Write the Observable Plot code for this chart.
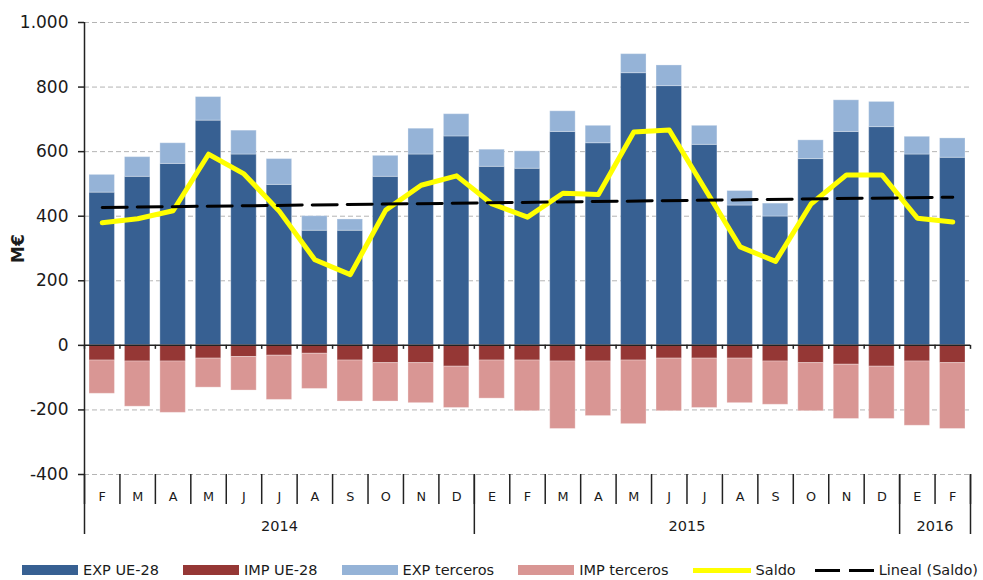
<!DOCTYPE html>
<html>
<head>
<meta charset="utf-8">
<script src="https://cdn.jsdelivr.net/npm/d3@7"></script>
<script src="https://cdn.jsdelivr.net/npm/@observablehq/plot@0.6"></script>
<style>
  body { margin: 0; background: #fff; font-family: "DejaVu Sans", Verdana, sans-serif; }
  #chart svg [aria-label="y-axis label"] text { font-weight: bold; }
  #legend { display: flex; align-items: center; height: 25px; padding-left: 22px; padding-top: 5px; box-sizing: border-box; font-size: 14.5px; color: #1a1a1a; white-space: nowrap; }
  #legend .item { display: flex; align-items: center; margin-right: 24px; }
  #legend .item.short { margin-right: 19px; }
  #legend .sw { width: 56px; height: 10px; margin-right: 5px; }
  #legend .ln { width: 58px; height: 5px; margin-right: 5px; }
  #legend .dash { display: flex; width: 59px; margin-right: 5px; justify-content: space-between; }
  #legend .dash span { display: block; width: 25px; height: 3px; background: #000; }
</style>
</head>
<body>
<div id="chart"></div>
<div id="legend"></div>
<script>
// ---- data ----
const months = ["F","M","A","M","J","J","A","S","O","N","D","E","F","M","A","M","J","J","A","S","O","N","D","E","F"];
const years  = ["2014","2014","2014","2014","2014","2014","2014","2014","2014","2014","2014",
                "2015","2015","2015","2015","2015","2015","2015","2015","2015","2015","2015","2015",
                "2016","2016"];
const expUE       = [473,522,562,696,591,497,355,355,522,591,647,553,547,661,626,843,803,621,433,399,577,661,676,591,581];
const expTerceros = [55,61,64,73,74,80,45,35,65,80,69,53,54,64,54,59,64,59,45,40,58,98,78,55,60];
const impUE       = [-47,-50,-50,-41,-36,-32,-26,-47,-55,-55,-66,-47,-47,-50,-50,-47,-41,-41,-41,-50,-55,-60,-66,-50,-55];
const impTerceros = [-103,-140,-159,-90,-104,-137,-109,-127,-119,-124,-128,-118,-157,-209,-169,-197,-163,-153,-138,-134,-149,-168,-162,-199,-204];
const saldo       = [380,392,417,592,531,415,265,219,419,496,525,438,397,471,467,661,667,486,305,260,438,528,528,394,382];
const yTicks = [-400,-200,0,200,400,600,800,1000];

const seriesNames = ["EXP UE-28","IMP UE-28","EXP terceros","IMP terceros"];
const seriesColors = ["#376092","#953735","#95B3D7","#D99694"];
const saldoColor = "#FFFF00";

// ---- derived tables ----
const rows = [];
months.forEach((m, i) => {
  rows.push({i, s: "EXP UE-28", v: expUE[i]});
  rows.push({i, s: "IMP UE-28", v: impUE[i]});
  rows.push({i, s: "EXP terceros", v: expTerceros[i]});
  rows.push({i, s: "IMP terceros", v: impTerceros[i]});
});
const saldoRows = saldo.map((v, i) => ({xc: i + 0.5, v}));
const monthCenters = months.map((m, i) => i + 0.5);
const monthBounds = months.map((m, i) => i).concat([months.length]);
const yearBounds = years.map((y, i) => (i === 0 || y !== years[i - 1]) ? i : null).filter(d => d !== null).concat([years.length]);
const yearCenters = yearBounds.slice(0, -1).map((b, k) => (b + yearBounds[k + 1]) / 2);
const yearLabel = d => years[Math.floor(d)];

const loc = d3.formatLocale({decimal: ",", thousands: ".", grouping: [3], currency: ["", " €"], minus: "-"});
const fmt = loc.format(",");

const axisColor = "#222";

const plot = Plot.plot({
  width: 983,
  height: 555,
  marginLeft: 84,
  marginRight: 13,
  marginTop: 22,
  marginBottom: 81,
  style: {fontFamily: "DejaVu Sans, Verdana, sans-serif", color: "#1a1a1a", background: "#fff"},
  x: {type: "linear", domain: [0, months.length]},
  y: {domain: [-400, 1000]},
  color: {domain: seriesNames, range: seriesColors},
  marks: [
    Plot.gridY(yTicks.filter(d => d !== 0), {stroke: "#b4b4b4", strokeOpacity: 1, strokeDasharray: "5,3"}),
    Plot.rectY(rows, {x1: "i", x2: d => d.i + 1, y: "v", fill: "s", insetLeft: 5, insetRight: 5, stroke: "#fff", strokeOpacity: 0.3, strokeWidth: 1}),
    Plot.ruleY([0], {stroke: axisColor, strokeWidth: 1.5}),
    Plot.ruleX(monthBounds, {y1: 0, y2: 0, insetBottom: -4, stroke: axisColor, strokeWidth: 1.5}),
    Plot.ruleX([0], {stroke: axisColor, strokeWidth: 1.5}),
    Plot.axisY({ticks: yTicks, tickFormat: fmt, tickSize: 6, tickPadding: 10, fontSize: 17, stroke: axisColor, strokeWidth: 1.5,
                label: "M€", labelAnchor: "center", labelOffset: 73, labelArrow: "none"}),
    Plot.axisX({ticks: monthCenters, tickFormat: d => months[Math.floor(d)], tickSize: 0, tickPadding: 17, fontSize: 12.8, label: null}),
    Plot.axisX({ticks: monthBounds, tickFormat: () => "", tickSize: 30, stroke: axisColor, strokeWidth: 1.5, label: null}),
    Plot.axisX({ticks: yearBounds, tickFormat: () => "", tickSize: 60, stroke: axisColor, strokeWidth: 1.5, label: null}),
    Plot.axisX({ticks: yearCenters, tickFormat: yearLabel, tickSize: 0, tickPadding: 46, fontSize: 14.5, label: null}),
    Plot.lineY(saldoRows, {x: "xc", y: "v", stroke: saldoColor, strokeWidth: 5, strokeLinejoin: "round"}),
    Plot.linearRegressionY(saldoRows, {x: "xc", y: "v", ci: 0, stroke: "#000", strokeWidth: 3, strokeDasharray: "25,10"})
  ]
});
document.getElementById("chart").appendChild(plot);

// ---- legend ----
const legend = document.getElementById("legend");
seriesNames.forEach((name, k) => {
  const it = document.createElement("div");
  it.className = "item";
  it.innerHTML = `<div class="sw" style="background:${seriesColors[k]}"></div><span>${name}</span>`;
  legend.appendChild(it);
});
const it1 = document.createElement("div");
it1.className = "item short";
it1.innerHTML = `<div class="ln" style="background:${saldoColor}"></div><span>Saldo</span>`;
legend.appendChild(it1);
const it2 = document.createElement("div");
it2.className = "item";
it2.innerHTML = `<div class="dash"><span></span><span></span></div><span>Lineal (Saldo)</span>`;
legend.appendChild(it2);
</script>
</body>
</html>
